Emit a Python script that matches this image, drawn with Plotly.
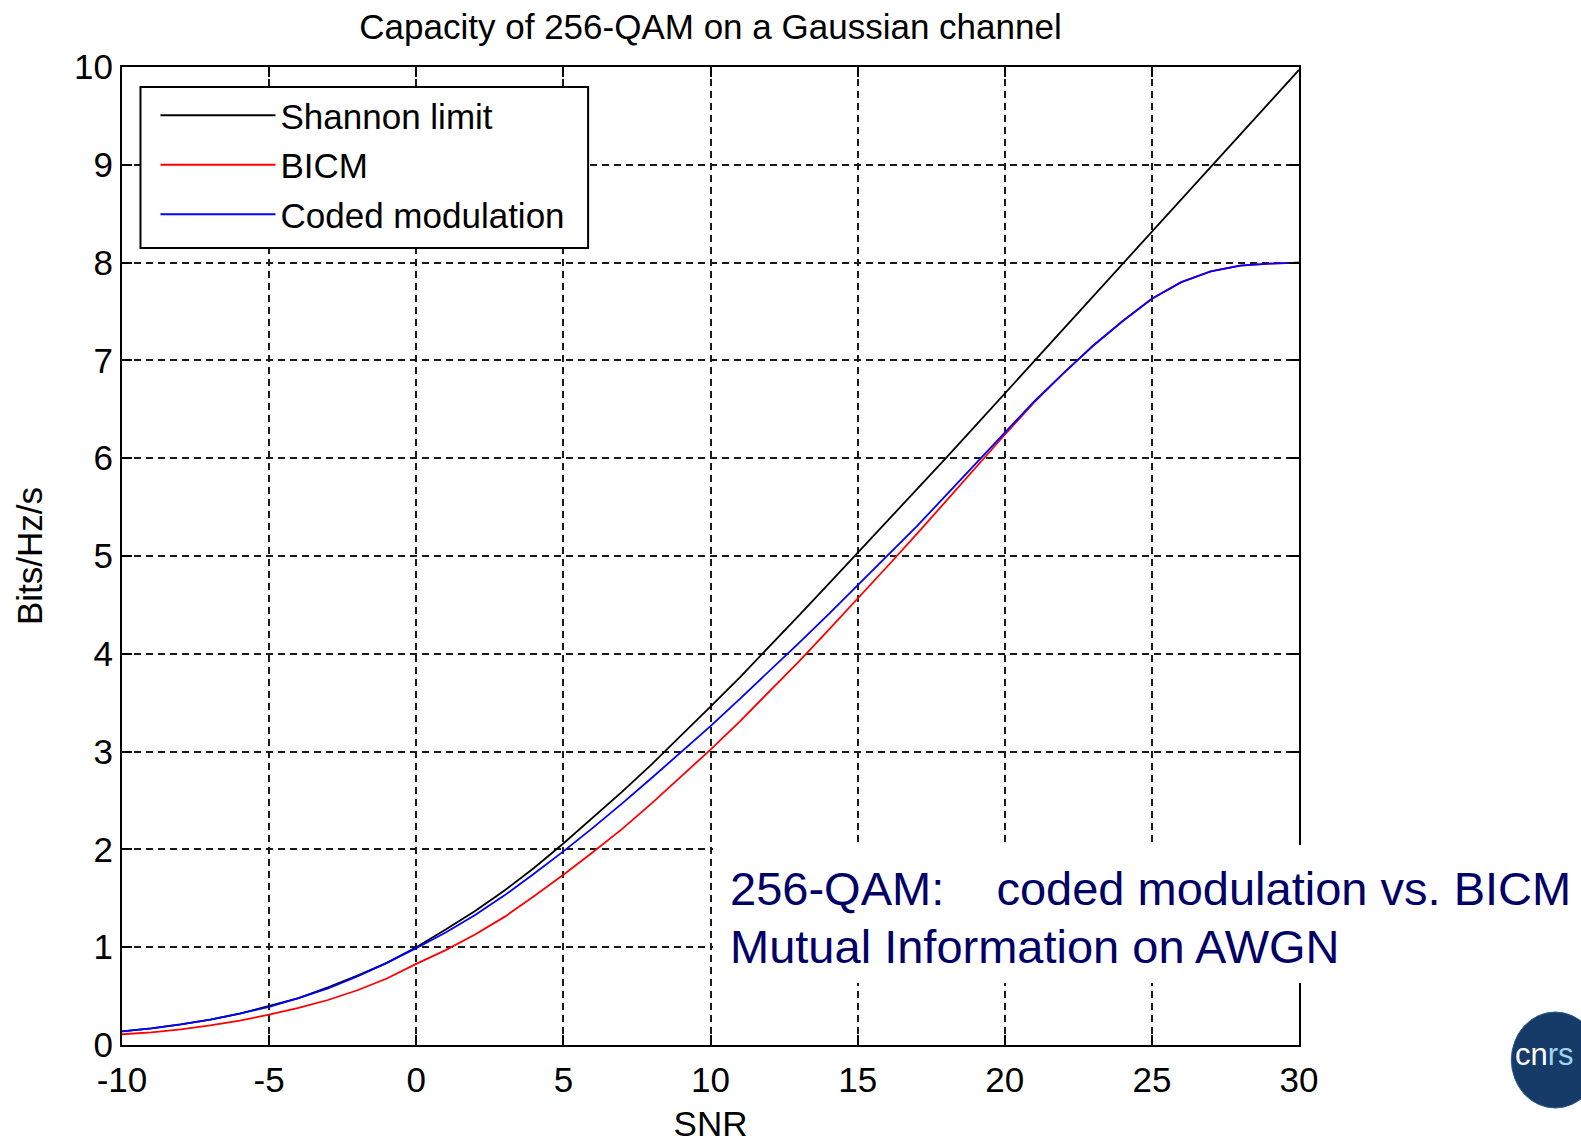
import plotly.graph_objects as go

# ---- data ----
snr_db = list(range(-10, 31))
shannon = [0.14, 0.17, 0.21, 0.26, 0.32, 0.40, 0.48, 0.59, 0.71, 0.84,
           1.00, 1.18, 1.37, 1.58, 1.81, 2.06, 2.32, 2.59, 2.87, 3.16,
           3.46, 3.76, 4.07, 4.39, 4.71, 5.03, 5.35, 5.68, 6.00, 6.33,
           6.66, 6.99, 7.32, 7.65, 7.98, 8.31, 8.64, 8.97, 9.30, 9.64, 9.97]
bicm = [0.11, 0.13, 0.16, 0.20, 0.25, 0.31, 0.38, 0.46, 0.56, 0.68,
        0.83, 0.97, 1.13, 1.31, 1.52, 1.74, 1.97, 2.21, 2.47, 2.74,
        3.02, 3.31, 3.61, 3.92, 4.24, 4.56, 4.89, 5.22, 5.56, 5.91,
        6.24, 6.57, 6.87, 7.15, 7.40, 7.63, 7.80, 7.91, 7.97, 7.99, 8.00]
coded_mod = [0.14, 0.17, 0.21, 0.26, 0.32, 0.39, 0.48, 0.58, 0.70, 0.84,
             0.99, 1.15, 1.33, 1.53, 1.75, 1.98, 2.22, 2.47, 2.73, 2.99,
             3.26, 3.54, 3.82, 4.11, 4.40, 4.70, 5.00, 5.30, 5.62, 5.94,
             6.27, 6.58, 6.87, 7.15, 7.40, 7.63, 7.80, 7.91, 7.97, 7.99, 8.00]
series_names = ["Shannon limit", "BICM", "Coded modulation"]
series_colors = ["#000000", "#ff0000", "#0000ff"]
x_ticks = [-10, -5, 0, 5, 10, 15, 20, 25, 30]
y_ticks = list(range(0, 11))
title_text = "Capacity of 256-QAM on a Gaussian channel"
note_lines = ["256-QAM:\u00a0\u00a0\u00a0 coded modulation vs. BICM",
              "Mutual Information on AWGN"]

# ---- layout geometry (pixels) ----
W, H = 1581, 1143
L, R, T, B = 121.5, 281.5, 67, 98
PW, PH = W - L - R, H - T - B

def px(xp):
    return (xp - L) / PW

def py(yp):
    return (H - B - yp) / PH

FONT = "Liberation Sans, Arial, Helvetica, sans-serif"
FS = 35

fig = go.Figure()
for name, ys, col in zip(series_names, [shannon, bicm, coded_mod], series_colors):
    fig.add_trace(go.Scatter(x=snr_db, y=ys, mode="lines", name=name, legendgroup=name,
                             line=dict(color=col, width=1.8)))

axis_common = dict(
    showline=True, linecolor="black", linewidth=2, mirror="ticks",
    ticks="inside", ticklen=10, tickwidth=2, tickcolor="black",
    showgrid=True, gridcolor="#1a1a1a", gridwidth=1.5, griddash="7px,5px",
    zeroline=False, automargin=False,
    tickfont=dict(family=FONT, size=FS, color="black"),
)

fig.update_xaxes(range=[-10, 30], tickvals=x_ticks, ticktext=[str(v) for v in x_ticks],
                 ticklabelstandoff=3,
                 title=dict(text="SNR", font=dict(family=FONT, size=FS, color="black"), standoff=19),
                 **axis_common)
fig.update_yaxes(range=[0, 10], tickvals=y_ticks, ticktext=[str(v) for v in y_ticks],
                 title=dict(text="Bits/Hz/s", font=dict(family=FONT, size=FS, color="black"), standoff=21),
                 **axis_common)

shapes = [
    # legend frame
    dict(type="rect", xref="paper", yref="paper", x0=px(140), x1=px(588),
         y0=py(248), y1=py(87), fillcolor="white", line=dict(color="black", width=2), layer="above"),
    # white box behind the note
    dict(type="rect", xref="paper", yref="paper", x0=px(713), x1=px(1600),
         y0=py(983), y1=py(845), fillcolor="white", line=dict(width=0), layer="above"),
    # cnrs logo disc
    dict(type="circle", xref="paper", yref="paper", x0=px(1512), x1=px(1600),
         y0=py(1108), y1=py(1012), fillcolor="#173b69", line=dict(color="#2a5a8c", width=1), layer="above"),
]

annotations = [
    dict(text=note_lines[0], xref="paper", yref="paper", x=px(728), y=py(888),
         xanchor="left", yanchor="middle", showarrow=False,
         font=dict(family=FONT, size=47, color="#000066")),
    dict(text=note_lines[1], xref="paper", yref="paper", x=px(728), y=py(946),
         xanchor="left", yanchor="middle", showarrow=False,
         font=dict(family=FONT, size=47, color="#000066")),
    dict(text="cn<span style='color:#9fd3f0'>rs</span>", xref="paper", yref="paper", x=px(1514), y=py(1054),
         xanchor="left", yanchor="middle", showarrow=False,
         font=dict(family=FONT, size=31, color="white")),
]

fig.update_layout(
    width=W, height=H,
    margin=dict(l=L, r=R, t=T, b=B, autoexpand=False),
    paper_bgcolor="white", plot_bgcolor="white",
    title=dict(text=title_text, x=0.5, xref="paper", xanchor="center",
               y=1 - 27 / H, yanchor="middle",
               font=dict(family=FONT, size=FS, color="black")),
    showlegend=True,
    legend=dict(x=px(155), y=py(86), xanchor="left", yanchor="top",
                bgcolor="rgba(255,255,255,0)", borderwidth=0,
                font=dict(family=FONT, size=FS, color="black"),
                itemwidth=115, tracegroupgap=1),
    shapes=shapes,
    annotations=annotations,
)

fig.write_html("out.html")
